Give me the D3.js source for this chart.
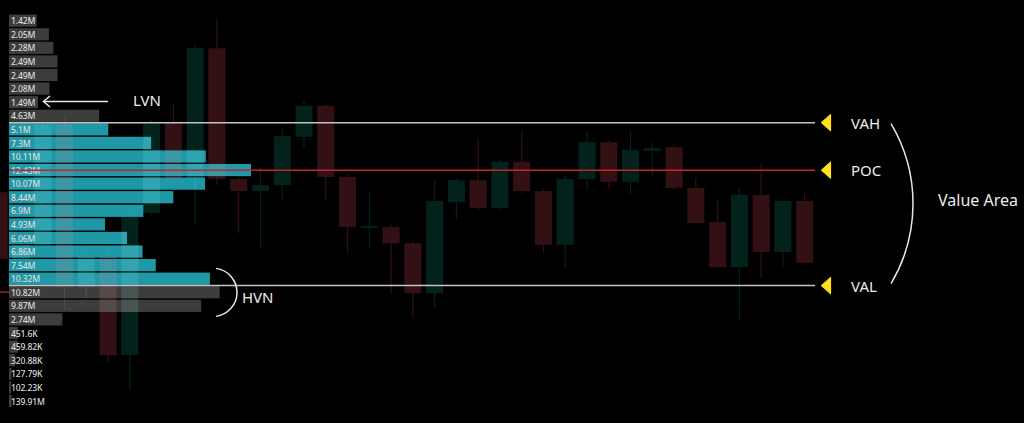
<!DOCTYPE html>
<html><head><meta charset="utf-8">
<script src="https://cdn.jsdelivr.net/npm/d3@7"></script>
<style>
html,body{margin:0;padding:0;background:#000;}
svg{display:block;}
</style></head>
<body>
<script>
// ---- DATA ----
const profileLevels = [107.25,107.00,106.75,106.50,106.25,106.00,105.75,105.50,105.25,105.00,104.75,104.50,104.25,104.00,103.75,103.50,103.25,103.00,102.75,102.50,102.25,102.00,101.75,101.50,101.25,101.00,100.75,100.50,100.25];
const profileVolumes = [1.42,2.05,2.28,2.49,2.49,2.08,1.49,4.63,5.1,7.3,10.11,12.43,10.07,8.44,6.9,4.93,6.06,6.86,7.54,10.32,10.82,9.87,2.74,0.4516,0.45982,0.32088,0.12779,0.10223,0.13991];
const profileLabels = ["1.42M","2.05M","2.28M","2.49M","2.49M","2.08M","1.49M","4.63M","5.1M","7.3M","10.11M","12.43M","10.07M","8.44M","6.9M","4.93M","6.06M","6.86M","7.54M","10.32M","10.82M","9.87M","2.74M","451.6K","459.82K","320.88K","127.79K","102.23K","139.91M"];
const rowStep = 0.25;

const candleIndex = d3.range(38);
const candleOpen  = [103.97,102.74,103.00,105.21,102.22,102.78,100.97,103.59,105.26,104.23,106.62,104.21,103.99,104.10,104.99,105.56,104.25,103.33,103.33,103.03,102.11,103.79,104.19,103.68,104.53,103.99,103.00,104.21,104.89,104.16,104.73,104.80,104.05,103.42,102.59,103.92,102.87,103.81];
const candleHigh  = [104.08,103.07,105.30,105.34,102.85,102.91,103.59,105.30,105.61,106.68,107.16,104.25,104.43,105.15,105.67,105.59,104.29,103.97,103.37,103.07,104.19,104.23,104.95,104.58,105.08,104.03,104.27,105.11,104.93,105.10,104.88,104.84,104.23,103.84,104.05,104.49,103.84,103.95];
const candleLow   = [102.61,102.67,102.91,101.80,102.02,100.84,100.33,103.55,104.16,103.37,104.10,103.22,102.94,103.83,104.78,103.83,102.87,102.94,102.11,101.65,101.84,103.48,103.64,103.64,103.95,102.85,102.56,104.01,104.05,103.94,104.27,104.01,103.37,102.56,101.62,102.39,102.59,102.63];
const candleClose = [102.74,103.00,105.21,102.22,102.78,100.97,103.51,105.26,104.23,106.62,104.21,103.99,104.10,105.00,105.56,104.25,103.33,103.35,103.03,102.11,103.81,104.19,103.68,104.53,103.99,103.00,104.21,104.89,104.16,104.75,104.78,104.05,103.40,102.59,103.92,102.87,103.81,102.67];

const VAH = 105.25, POC = 104.375, VAL = 102.25, lastPrice = 102.13;
const levelNames = ["VAH","POC","VAL"];
const levelValues = [VAH, POC, VAL];

// ---- CHART ----
const W = 1024, H = 423;
const svg = d3.select("body").append("svg").attr("width", W).attr("height", H).style("background","#000");
const defs = svg.append("defs");

const y = d3.scaleLinear().domain([100, 107.25]).range([407.8, 14]);
const xVol = d3.scaleLinear().domain([0, 12.43]).range([9, 251]);
const x = d3.scaleBand().domain(candleIndex).range([-9.3, 813.2]).paddingInner(0.219).paddingOuter(0);

const FONT = "'Noto Sans', 'DejaVu Sans', sans-serif";

function drawCandles(g, upCol, downCol, wickW) {
  candleIndex.forEach(i => {
    const up = candleClose[i] >= candleOpen[i];
    const col = up ? upCol : downCol;
    const cx = x(i) + x.bandwidth() / 2;
    g.append("line").attr("x1", cx).attr("x2", cx)
      .attr("y1", y(candleHigh[i])).attr("y2", y(candleLow[i]))
      .attr("stroke", col).attr("stroke-width", wickW);
    const top = y(Math.max(candleOpen[i], candleClose[i]));
    const bot = y(Math.min(candleOpen[i], candleClose[i]));
    g.append("rect").attr("x", x(i)).attr("y", top)
      .attr("width", x.bandwidth()).attr("height", Math.max(2, bot - top))
      .attr("fill", col);
  });
}

// candles underneath
drawCandles(svg.append("g"), "#04221c", "#321014", 1.2);

// profile bars + clip
const clip = defs.append("clipPath").attr("id", "barsClip");
const prof = svg.append("g");
profileLevels.forEach((lv, i) => {
  const inVA = lv <= VAH && (lv - rowStep) >= VAL - 1e-9;
  const y0 = y(lv), y1 = y(lv - rowStep);
  const attrs = [xVol(0), y0 + 0.6, xVol(profileVolumes[i]) - xVol(0), (y1 - y0) - 1.4];
  prof.append("rect")
    .attr("x", attrs[0]).attr("y", attrs[1]).attr("width", attrs[2]).attr("height", attrs[3])
    .attr("fill", inVA ? "#1f98a8" : "#3d3d3d");
  clip.append("rect")
    .attr("x", attrs[0]).attr("y", attrs[1]).attr("width", attrs[2]).attr("height", attrs[3]);
});

// subtle candle show-through on the bars
const ov = svg.append("g").attr("clip-path", "url(#barsClip)").attr("opacity", 0.13);
drawCandles(ov, "#9ff5e6", "#ff9a9a", 1);

// profile labels
profileLevels.forEach((lv, i) => {
  svg.append("text")
    .attr("x", 11).attr("y", (y(lv) + y(lv - rowStep)) / 2 + 0.5)
    .attr("dominant-baseline", "central")
    .attr("font-family", FONT).attr("font-size", 8.6).attr("font-weight", 500)
    .attr("letter-spacing", -0.15)
    .attr("fill", "#dcdcdc")
    .text(profileLabels[i]);
});

// level lines
const lineEnd = 815;
levelValues.forEach((v, k) => {
  svg.append("line").attr("x1", 9).attr("x2", lineEnd)
    .attr("y1", y(v)).attr("y2", y(v))
    .attr("stroke", k === 1 ? "#c0262c" : "#c4c4c4").attr("stroke-width", 1.5);
  const yy = y(v);
  svg.append("path")
    .attr("d", `M821.5,${yy} L830.5,${yy - 8} L830.5,${yy + 8} Z`)
    .attr("fill", "#ffe21a").attr("stroke", "#ffe21a").attr("stroke-width", 1.2).attr("stroke-linejoin", "round");
  svg.append("text").attr("x", 851).attr("y", yy)
    .attr("dominant-baseline", "central")
    .attr("font-family", FONT).attr("font-size", 15)
    .attr("fill", "#ececec").text(levelNames[k]);
});

// last price tick
svg.append("line").attr("x1", 0).attr("x2", 9).attr("y1", y(lastPrice)).attr("y2", y(lastPrice))
  .attr("stroke", "#d0282e").attr("stroke-width", 1.2);

// Value Area bracket
const vaTop = y(VAH) + 1, vaBot = y(VAL) - 2;
const vaX = 891, sag = 22;
const half = (vaBot - vaTop) / 2;
const r = (half * half + sag * sag) / (2 * sag);
svg.append("path")
  .attr("d", `M${vaX},${vaTop} A${r},${r} 0 0 1 ${vaX},${vaBot}`)
  .attr("fill", "none").attr("stroke", "#e6e6e6").attr("stroke-width", 1.5);
svg.append("text").attr("x", 938).attr("y", (vaTop + vaBot) / 2 - 4)
  .attr("dominant-baseline", "central")
  .attr("font-family", FONT).attr("font-size", 16)
  .attr("fill", "#ececec").text("Value Area");

// HVN bracket
const hvnMid = y(102.125);
const hTop = hvnMid - 24, hBot = hvnMid + 24, hSag = 21;
const hr = (24 * 24 + hSag * hSag) / (2 * hSag);
svg.append("path")
  .attr("d", `M216,${hTop} A${hr},${hr} 0 0 1 216,${hBot}`)
  .attr("fill", "none").attr("stroke", "#e6e6e6").attr("stroke-width", 1.5);
svg.append("text").attr("x", 242).attr("y", hvnMid + 5)
  .attr("dominant-baseline", "central")
  .attr("font-family", FONT).attr("font-size", 15)
  .attr("fill", "#ececec").text("HVN");

// LVN arrow
const lvnY = (y(105.75) + y(105.5)) / 2 - 0.8;
svg.append("line").attr("x1", 108).attr("x2", 44).attr("y1", lvnY).attr("y2", lvnY)
  .attr("stroke", "#e6e6e6").attr("stroke-width", 1.5);
svg.append("path").attr("d", `M50,${lvnY - 5.5} L43.5,${lvnY} L50,${lvnY + 5.5}`)
  .attr("fill", "none").attr("stroke", "#e6e6e6").attr("stroke-width", 1.5);
svg.append("text").attr("x", 133).attr("y", lvnY - 1)
  .attr("dominant-baseline", "central")
  .attr("font-family", FONT).attr("font-size", 15)
  .attr("fill", "#ececec").text("LVN");
</script>
</body></html>
